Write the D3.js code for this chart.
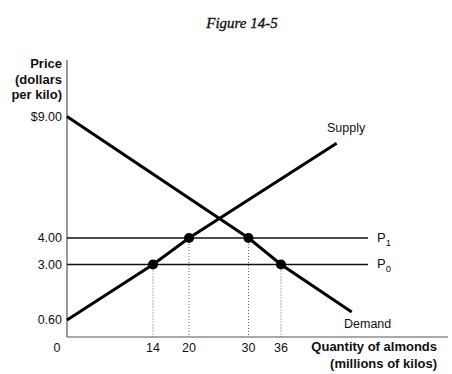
<!DOCTYPE html>
<html lang="en">
<head>
<meta charset="UTF-8">
<title>Figure 14-5</title>
<script src="https://d3js.org/d3.v7.min.js"></script>
<style>
  body { margin: 0; background: #fff; }
  svg text { font-family: "Liberation Sans", Arial, sans-serif; fill: #111; }
</style>
</head>
<body>
<div id="chart"></div>
<script>
// data
const yTicks = [9, 4, 3, 0.6];
const yTickLabels = ["$9.00", "4.00", "3.00", "0.60"];
const xTicks = [14, 20, 30, 36];
const supplyQ = [0, 14, 20, 46];
const supplyP = [0.6, 3, 4, 7.9];
const demandQ = [0, 30, 36, 48.7];
const demandP = [9, 4, 3, 0.95];
const priceLevels = [4, 3];
const priceNames = ["1", "0"];   // P1, P0 subscripts
const dotQ = [14, 20, 30, 36];
const dotP = [3, 4, 4, 3];

const W = 452, H = 374;
const svg = d3.select("#chart").append("svg")
  .attr("width", W).attr("height", H);

// schematic axes: the figure is not drawn to a uniform scale
const x = d3.scaleLinear()
  .domain([0, 14, 20, 30, 36, 66])
  .range([67, 153, 189, 248.5, 281, 448]);
const y = d3.scaleLinear()
  .domain([0, 0.6, 3, 4, 9])
  .range([337, 320, 264.5, 238, 116.5]);

// title
svg.append("text")
  .attr("x", 242).attr("y", 28)
  .attr("text-anchor", "middle")
  .style("font-family", "'Liberation Serif', 'Times New Roman', serif")
  .style("font-style", "italic")
  .style("font-size", "15px")
  .style("stroke", "#111").style("stroke-width", 0.35)
  .text("Figure 14-5");

// axes lines
svg.append("line")
  .attr("x1", x(0)).attr("x2", x(0))
  .attr("y1", 60).attr("y2", y(0))
  .attr("stroke", "#333").attr("stroke-width", 1);
svg.append("line")
  .attr("x1", x(0)).attr("x2", x(66))
  .attr("y1", y(0)).attr("y2", y(0))
  .attr("stroke", "#555").attr("stroke-width", 1.2);

// y axis title
const yTitle = svg.append("text")
  .attr("text-anchor", "end")
  .style("font-weight", "bold")
  .style("font-size", "13px");
["Price", "(dollars", "per kilo)"].forEach((t, i) => {
  yTitle.append("tspan").attr("x", 62).attr("y", 68 + i * 15.5).text(t);
});

// y tick labels
svg.selectAll("text.ytick")
  .data(yTicks)
  .join("text")
  .attr("class", "ytick")
  .attr("x", 62)
  .attr("y", d => y(d))
  .attr("dy", "0.35em")
  .attr("text-anchor", "end")
  .style("font-size", "12.5px")
  .text((d, i) => yTickLabels[i]);

svg.append("text")
  .attr("x", 57).attr("y", y(0) + 11).attr("dy", "0.35em")
  .attr("text-anchor", "middle")
  .style("font-size", "12.5px")
  .text("0");

// x tick labels
svg.selectAll("text.xtick")
  .data(xTicks)
  .join("text")
  .attr("class", "xtick")
  .attr("x", d => x(d))
  .attr("y", y(0) + 11)
  .attr("dy", "0.35em")
  .attr("text-anchor", "middle")
  .style("font-size", "12.5px")
  .text(d => d);

// x axis title
const xTitle = svg.append("text")
  .attr("text-anchor", "end")
  .style("font-weight", "bold")
  .style("font-size", "13px");
["Quantity of almonds", "(millions of kilos)"].forEach((t, i) => {
  xTitle.append("tspan").attr("x", 437).attr("y", 351 + i * 17).text(t);
});

// dotted guides down to the quantity axis
svg.selectAll("line.guide")
  .data(dotQ)
  .join("line")
  .attr("class", "guide")
  .attr("x1", d => x(d)).attr("x2", d => x(d))
  .attr("y1", (d, i) => y(dotP[i])).attr("y2", y(0))
  .attr("stroke", "#666")
  .attr("stroke-width", 1)
  .attr("stroke-dasharray", "1,2");

// price lines P1, P0
svg.selectAll("line.price")
  .data(priceLevels)
  .join("line")
  .attr("class", "price")
  .attr("x1", x(0)).attr("x2", 368)
  .attr("y1", d => y(d)).attr("y2", d => y(d))
  .attr("stroke", "#111").attr("stroke-width", 1.6);

const pLab = svg.selectAll("text.plab")
  .data(priceLevels)
  .join("text")
  .attr("class", "plab")
  .attr("x", 377)
  .attr("y", d => y(d))
  .attr("dy", "0.3em")
  .style("font-size", "13px");
pLab.append("tspan").text("P");
pLab.append("tspan")
  .attr("dy", "4")
  .style("font-size", "9.5px")
  .text((d, i) => priceNames[i]);

// supply and demand curves
const line = d3.line().x(d => x(d[0])).y(d => y(d[1]));
svg.append("path")
  .datum(supplyQ.map((q, i) => [q, supplyP[i]]))
  .attr("d", line)
  .attr("fill", "none").attr("stroke", "#000").attr("stroke-width", 3);
svg.append("path")
  .datum(demandQ.map((q, i) => [q, demandP[i]]))
  .attr("d", line)
  .attr("fill", "none").attr("stroke", "#000").attr("stroke-width", 3);

svg.append("text")
  .attr("x", 327).attr("y", 132)
  .style("font-size", "12.5px")
  .text("Supply");
svg.append("text")
  .attr("x", 344).attr("y", 328)
  .style("font-size", "12.5px")
  .text("Demand");

// dots
svg.selectAll("circle.dot")
  .data(dotQ)
  .join("circle")
  .attr("class", "dot")
  .attr("cx", d => x(d))
  .attr("cy", (d, i) => y(dotP[i]))
  .attr("r", 5)
  .attr("fill", "#000");
</script>
</body>
</html>
